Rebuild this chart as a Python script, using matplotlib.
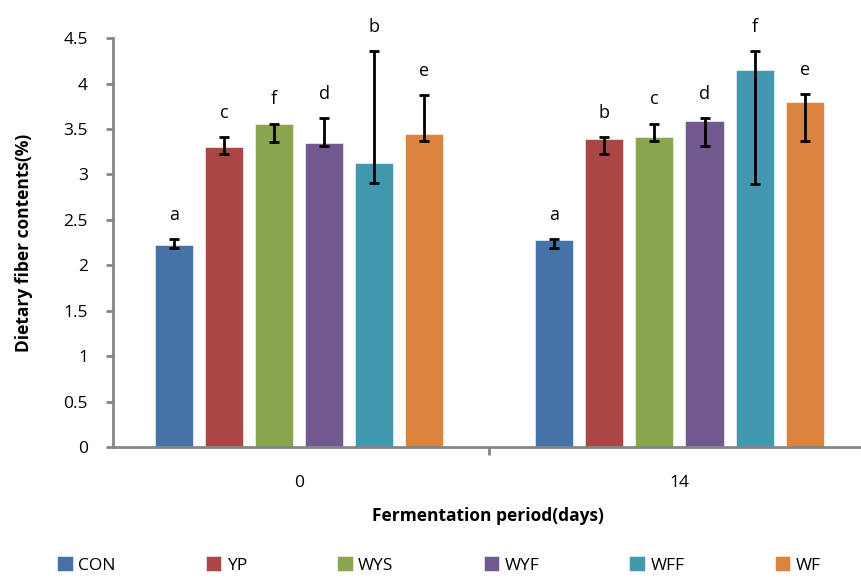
import numpy as np
import matplotlib.pyplot as plt

plt.rcParams['font.family'] = ['Open Sans', 'DejaVu Sans']

days = ["0", "14"]
series = ["CON", "YP", "WYS", "WYF", "WFF", "WF"]
colors = ["#4572A7", "#AA4643", "#89A54E", "#71588F", "#4198AF", "#DB843D"]

# mean values, day 0 and day 14
means = {
    "CON": [2.22, 2.28],
    "YP": [3.30, 3.39],
    "WYS": [3.55, 3.41],
    "WYF": [3.35, 3.59],
    "WFF": [3.12, 4.15],
    "WF": [3.44, 3.80],
}
# error bar ends (low, high) as drawn
err_low = {
    "CON": [2.19, 2.19],
    "YP": [3.23, 3.23],
    "WYS": [3.36, 3.37],
    "WYF": [3.31, 3.31],
    "WFF": [2.90, 2.89],
    "WF": [3.37, 3.37],
}
err_high = {
    "CON": [2.29, 2.29],
    "YP": [3.41, 3.41],
    "WYS": [3.56, 3.56],
    "WYF": [3.62, 3.62],
    "WFF": [4.36, 4.36],
    "WF": [3.87, 3.88],
}
letters = {
    "CON": ["a", "a"],
    "YP": ["c", "b"],
    "WYS": ["f", "c"],
    "WYF": ["d", "d"],
    "WFF": ["b", "f"],
    "WF": ["e", "e"],
}

fig = plt.figure(figsize=(8.62, 5.78), dpi=100)
ax = fig.add_axes([0.131, 0.2266, 0.869, 0.7075])

x = np.arange(len(days))
pitch = 0.1316
width = 0.1
axis_gray = "#868686"

for i, s in enumerate(series):
    pos = x + (i - 2.5) * pitch
    vals = np.array(means[s])
    lo = vals - np.array(err_low[s])
    hi = np.array(err_high[s]) - vals
    ax.bar(pos, vals, width, color=colors[i], edgecolor="white", linewidth=0.4, label=s, zorder=2)
    ax.errorbar(pos, vals, yerr=[lo, hi], fmt="none", ecolor="black", elinewidth=2,
                capsize=3.6, capthick=2, zorder=3)
    for p, top, lab in zip(pos, err_high[s], letters[s]):
        ax.annotate(lab, (p, top), xytext=(0, 11), textcoords="offset points",
                    ha="center", va="bottom", fontsize=13)

ax.set_xlim(-0.49, 1.48)
ax.set_ylim(0, 4.5)
ax.set_yticks(np.arange(0, 4.51, 0.5))
ax.set_yticklabels(["0", "0.5", "1", "1.5", "2", "2.5", "3", "3.5", "4", "4.5"])
ax.set_xticks(x)
ax.set_xticklabels(days)
ax.set_xticks([0.5], minor=True)
ax.tick_params(axis="x", which="major", length=0, labelsize=12.5, pad=20)
ax.tick_params(axis="x", which="minor", length=6, width=2, color=axis_gray)
ax.tick_params(axis="y", length=5, width=2, color=axis_gray, labelsize=12.5, pad=13)

for side in ["top", "right"]:
    ax.spines[side].set_visible(False)
for side in ["left", "bottom"]:
    ax.spines[side].set_color(axis_gray)
    ax.spines[side].set_linewidth(2)

ax.set_ylabel("Dietary fiber contents(%)", fontsize=12.5, fontweight="bold", labelpad=22)
ax.set_xlabel("Fermentation period(days)", fontsize=12.5, fontweight="bold", labelpad=12)

fig.legend(loc="center", bbox_to_anchor=(0.509, 1 - 565 / 578), ncol=6, frameon=False,
           fontsize=12.5, handlelength=0.9, handleheight=0.9, handletextpad=0.3,
           columnspacing=5.2)

fig.savefig("out.png", dpi=100)
